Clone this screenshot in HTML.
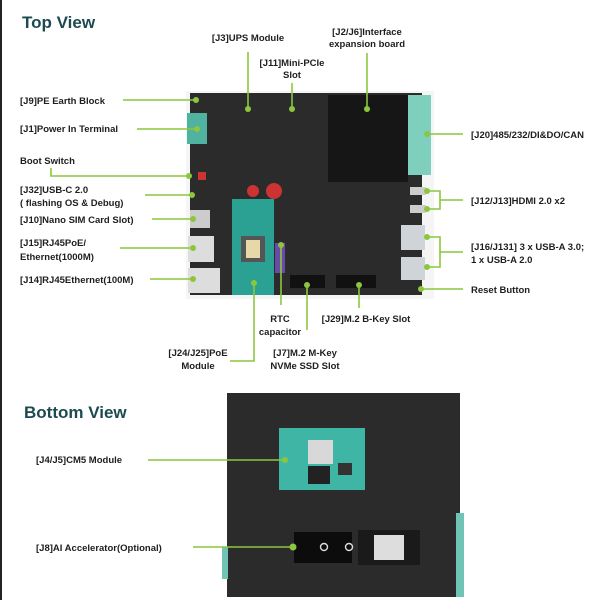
<!DOCTYPE html>
<html><head><meta charset="utf-8"><style>
html,body{margin:0;padding:0;background:#fff}
svg{display:block}
text{font-family:"Liberation Sans",sans-serif;font-size:9.5px;font-weight:bold;fill:#1e1e1e}
.t{font-size:17px;fill:#1d4a50}
.g{stroke:#8cc63f;stroke-width:1.6;fill:none}
.d{fill:#8cc63f}
</style></head><body>
<svg width="600" height="600" viewBox="0 0 600 600">
<rect x="0" y="0" width="2" height="600" fill="#222"/>
<text class="t" x="22" y="28">Top View</text>
<text class="t" x="24" y="418">Bottom View</text>

<!-- top board -->
<rect x="186" y="91" width="248" height="208" fill="#eee" opacity="0.6"/>
<rect x="190" y="93" width="232" height="202" fill="#2b2b2b"/>
<rect x="328" y="95" width="80" height="87" fill="#161616"/>
<rect x="408" y="95" width="23" height="80" fill="#7fcfbf"/>
<rect x="187" y="113" width="20" height="31" fill="#4fb3a0"/>
<rect x="232" y="199" width="42" height="96" fill="#2aa192"/>
<rect x="241" y="236" width="24" height="26" fill="#555"/>
<rect x="246" y="240" width="14" height="18" fill="#e8d8a8"/>
<rect x="275" y="243" width="10" height="30" fill="#6a4aa8"/>
<rect x="190" y="210" width="20" height="18" fill="#ccc"/>
<rect x="188" y="236" width="26" height="26" fill="#ddd"/>
<rect x="188" y="268" width="32" height="25" fill="#ddd"/>
<rect x="401" y="225" width="24" height="25" fill="#cfd4d8"/>
<rect x="401" y="257" width="24" height="23" fill="#cfd4d8"/>
<rect x="410" y="187" width="16" height="8" fill="#ccc"/>
<rect x="410" y="205" width="16" height="8" fill="#ccc"/>
<rect x="198" y="172" width="8" height="8" fill="#c33"/>
<circle cx="253" cy="191" r="6" fill="#c33"/>
<circle cx="274" cy="191" r="8" fill="#c33"/>
<rect x="290" y="275" width="35" height="13" fill="#111"/>
<rect x="336" y="275" width="40" height="13" fill="#111"/>

<!-- bottom board -->
<rect x="227" y="393" width="233" height="204" fill="#2b2b2b"/>
<rect x="456" y="513" width="8" height="84" fill="#6fc4b5"/>
<rect x="222" y="547" width="6" height="32" fill="#6fc4b5"/>
<rect x="279" y="428" width="86" height="62" fill="#3fb5a5"/>
<rect x="308" y="440" width="25" height="24" fill="#d8d8d8"/>
<rect x="308" y="466" width="22" height="18" fill="#222"/>
<rect x="338" y="463" width="14" height="12" fill="#333"/>
<rect x="294" y="532" width="58" height="31" fill="#0c0c0c"/>
<rect x="358" y="530" width="62" height="35" fill="#1a1a1a"/>
<rect x="374" y="535" width="30" height="25" fill="#ddd"/>
<circle cx="324" cy="547" r="3.5" fill="none" stroke="#ddd" stroke-width="1.4"/>
<circle cx="349" cy="547" r="3.5" fill="none" stroke="#ddd" stroke-width="1.4"/>

<!-- labels top -->
<text x="248" y="41" text-anchor="middle">[J3]UPS Module</text>
<text x="367" y="35" text-anchor="middle">[J2/J6]Interface</text>
<text x="367" y="47" text-anchor="middle">expansion board</text>
<text x="292" y="66" text-anchor="middle">[J11]Mini-PCIe</text>
<text x="292" y="78" text-anchor="middle">Slot</text>
<text x="20" y="104">[J9]PE Earth Block</text>
<text x="20" y="132">[J1]Power In Terminal</text>
<text x="20" y="164">Boot Switch</text>
<text x="20" y="193">[J32]USB-C 2.0</text>
<text x="20" y="206">( flashing OS &amp; Debug)</text>
<text x="20" y="223">[J10]Nano SIM Card Slot)</text>
<text x="20" y="246">[J15]RJ45PoE/</text>
<text x="20" y="260">Ethernet(1000M)</text>
<text x="20" y="283">[J14]RJ45Ethernet(100M)</text>
<text x="471" y="138">[J20]485/232/DI&amp;DO/CAN</text>
<text x="471" y="204">[J12/J13]HDMI 2.0 x2</text>
<text x="471" y="250">[J16/J131] 3 x USB-A 3.0;</text>
<text x="471" y="263">1 x USB-A 2.0</text>
<text x="471" y="293">Reset Button</text>
<text x="280" y="322" text-anchor="middle">RTC</text>
<text x="280" y="335" text-anchor="middle">capacitor</text>
<text x="366" y="322" text-anchor="middle">[J29]M.2 B-Key Slot</text>
<text x="305" y="356" text-anchor="middle">[J7]M.2 M-Key</text>
<text x="305" y="369" text-anchor="middle">NVMe SSD Slot</text>
<text x="198" y="356" text-anchor="middle">[J24/J25]PoE</text>
<text x="198" y="369" text-anchor="middle">Module</text>
<text x="36" y="463">[J4/J5]CM5 Module</text>
<text x="36" y="551">[J8]AI Accelerator(Optional)</text>

<!-- connectors -->
<g class="g">
<path d="M248 52V109"/><path d="M367 53V109"/><path d="M292 83V109"/>
<path d="M123 100H196"/><path d="M137 129H197"/>
<path d="M51 168V176H189"/><path d="M145 195H192"/>
<path d="M152 219H193"/><path d="M120 248H193"/><path d="M150 279H193"/>
<path d="M427 134H463"/>
<path d="M427 191H440V209H427M440 200H463"/>
<path d="M427 237H440V267H427M440 252H463"/>
<path d="M421 289H463"/>
<path d="M281 245V305"/><path d="M359 285V308"/><path d="M307 285V330"/>
<path d="M230 361H254V283"/>
<path d="M148 460H285"/><path d="M193 547H293"/>
</g>
<g class="d">
<circle cx="248" cy="109" r="3"/><circle cx="367" cy="109" r="3"/><circle cx="292" cy="109" r="3"/>
<circle cx="196" cy="100" r="3"/><circle cx="197" cy="129" r="3"/><circle cx="189" cy="176" r="3"/>
<circle cx="192" cy="195" r="3"/><circle cx="193" cy="219" r="3"/><circle cx="193" cy="248" r="3"/>
<circle cx="193" cy="279" r="3"/><circle cx="427" cy="134" r="3"/><circle cx="427" cy="191" r="3"/>
<circle cx="427" cy="209" r="3"/><circle cx="427" cy="237" r="3"/><circle cx="427" cy="267" r="3"/>
<circle cx="421" cy="289" r="3"/><circle cx="281" cy="245" r="3"/><circle cx="359" cy="285" r="3"/>
<circle cx="307" cy="285" r="3"/><circle cx="254" cy="283" r="3"/><circle cx="285" cy="460" r="3"/>
<circle cx="293" cy="547" r="3.5"/>
</g>
</svg>
</body></html>
